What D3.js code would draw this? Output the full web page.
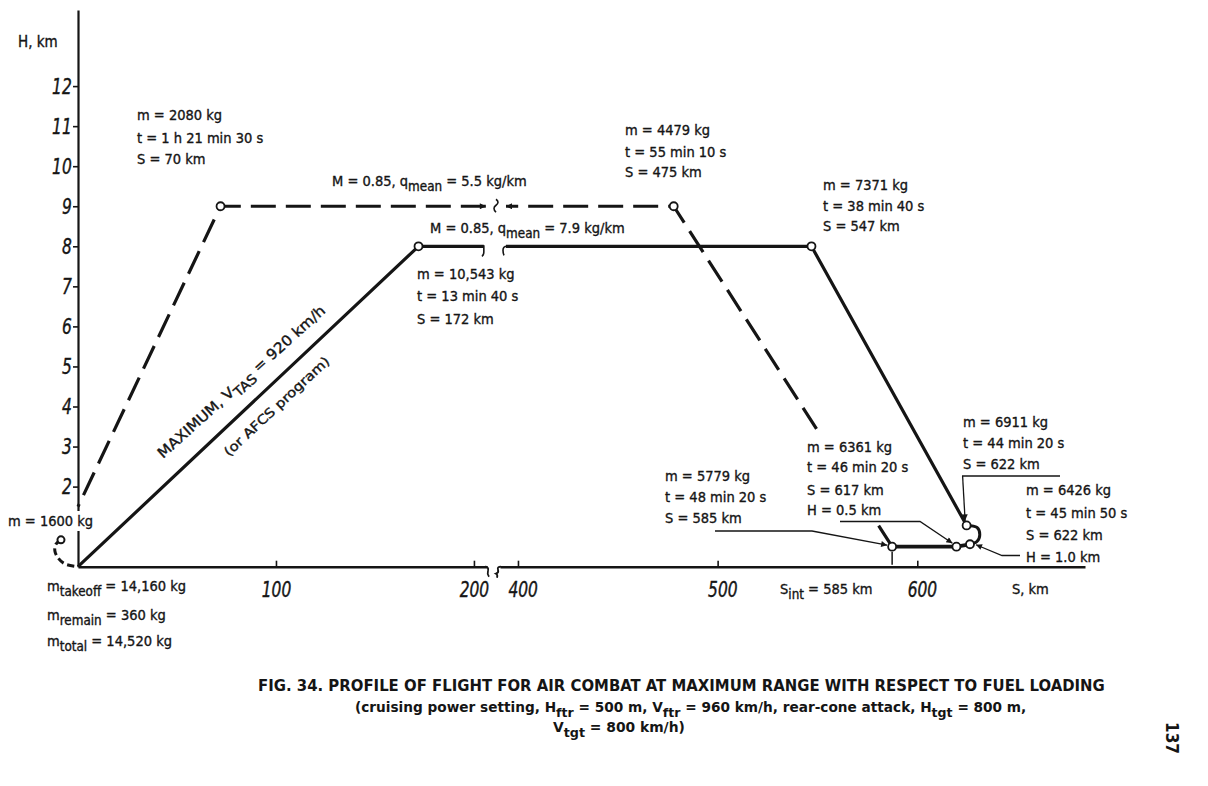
<!DOCTYPE html>
<html>
<head>
<meta charset="utf-8">
<script src="https://cdn.jsdelivr.net/npm/d3@7"></script>
<style>
  body { margin: 0; background: #fff; }
  svg text { font-family: "DejaVu Sans Condensed", "DejaVu Sans", sans-serif; fill: #151515; }
  .ann { font-size: 14.5px; stroke: #151515; stroke-width: 0.35px; }
  .num { font-style: italic; font-size: 22px; stroke: #151515; stroke-width: 0.4px; }
  .cap { font-weight: bold; font-size: 15px; }
</style>
</head>
<body>
<svg id="chart" width="1208" height="786"></svg>
<script>
// Axis ticks
const hTicks = [2, 3, 4, 5, 6, 7, 8, 9, 10, 11, 12];
const sTicksLeft = [100, 200];
const sTicksRight = [400, 500, 600];

// Outbound flight (solid), split by the axis break
const outLeftS = [0, 172, 205];
const outLeftH = [0, 8, 8];
const outRightS = [394, 547, 624.7];
const outRightH = [8, 8, 1.03];

// Manoeuvre loop before the attack
const loopS = [624.7, 629.9, 631.3, 629.9, 626.4];
const loopH = [1.03, 0.98, 0.80, 0.63, 0.56];

// Attack run at low level
const attackS = [626.4, 619.6, 587.4];
const attackH = [0.56, 0.5, 0.5];

// Return flight (dashed)
const backRightS = [587.4, 478, 394];
const backRightH = [0.5, 9, 9];
const backLeftS = [206, 72, 0];
const backLeftH = [9, 9, 1.5];

// Landing curl near the origin
const landS = [-8.6, -11.2, -11.7, -10.1, -6.6, 0];
const landH = [0.67, 0.56, 0.4, 0.22, 0.07, 0];

// Turning points (open circles)
const pointS = [172, 547, 624.7, 626.4, 619.6, 587.4, 478, 72];
const pointH = [8, 8, 1.03, 0.56, 0.5, 0.5, 9, 9];

const svg = d3.select("#chart");

// Broken S axis: two linear pieces
const xLeft = d3.scaleLinear().domain([0, 206.6]).range([78, 487]);
const xRight = d3.scaleLinear().domain([391, 684]).range([500, 1085]);
const x = s => (s < 300 ? xLeft(s) : xRight(s));
const y = d3.scaleLinear().domain([0, 13.9]).range([566.7, 10]);

const zip = (a, b) => a.map((v, i) => [v, b[i]]);
const line = d3.line().x(d => x(d[0])).y(d => y(d[1]));
const smooth = d3.line().x(d => x(d[0])).y(d => y(d[1])).curve(d3.curveCatmullRom);

// markers
const defs = svg.append("defs");
defs.append("marker").attr("id", "arrow")
  .attr("viewBox", "0 0 10 10").attr("refX", 10).attr("refY", 5)
  .attr("markerWidth", 9).attr("markerHeight", 6).attr("markerUnits", "userSpaceOnUse")
  .attr("orient", "auto-start-reverse")
  .append("path").attr("d", "M0,0L10,5L0,10z").attr("fill", "#151515");

// Axes
const yAxis = svg.append("g")
  .attr("transform", `translate(${x(0)},0)`)
  .call(d3.axisLeft(y).tickValues(hTicks).tickSizeInner(5).tickSizeOuter(0).tickPadding(3));

const xAxisL = svg.append("g")
  .attr("transform", `translate(0,${y(0)})`)
  .call(d3.axisBottom(xLeft).tickValues(sTicksLeft).tickSizeInner(-6).tickSizeOuter(0).tickPadding(15));

const xAxisR = svg.append("g")
  .attr("transform", `translate(0,${y(0)})`)
  .call(d3.axisBottom(xRight).tickValues(sTicksRight).tickSizeInner(-6).tickSizeOuter(0).tickPadding(15));

[yAxis, xAxisL, xAxisR].forEach(g => {
  g.attr("font-size", null).attr("font-family", null);
  g.select(".domain").attr("stroke", "#151515").attr("stroke-width", 2.2);
  g.selectAll(".tick line").attr("stroke", "#151515").attr("stroke-width", 1.6);
  // narrow, tall italic digits like the original lettering
  g.selectAll(".tick text").attr("class", "num").attr("fill", "#151515")
    .attr("transform", "scale(0.78,1)");
});
xAxisL.select(".domain").attr("stroke-width", 2.6);
xAxisR.select(".domain").attr("stroke-width", 2.6);
xAxisR.selectAll(".tick text").attr("x", 6);

// axis break curls
const y0 = y(0);
svg.append("path")
  .attr("d", `M${xLeft.range()[1] - 2},${y0} q4,0 3,4 q-1,3 1,6`)
  .attr("fill", "none").attr("stroke", "#151515").attr("stroke-width", 1.8);
svg.append("path")
  .attr("d", `M${xRight.range()[0] + 1},${y0} q-4,0 -3,3 q1,3 -2,4 q2,1 1,4`)
  .attr("fill", "none").attr("stroke", "#151515").attr("stroke-width", 1.8);

// Return flight (dashed)
const dash = "25,10";
svg.append("path").attr("d", line(zip(backRightS, backRightH)))
  .attr("fill", "none").attr("stroke", "#151515").attr("stroke-width", 3.2)
  .attr("stroke-dasharray", dash).attr("marker-end", "url(#arrow)");
svg.append("path").attr("d", line(zip(backLeftS, backLeftH)))
  .attr("fill", "none").attr("stroke", "#151515").attr("stroke-width", 3.2)
  .attr("stroke-dasharray", dash).attr("marker-start", "url(#arrow)");
svg.append("path").attr("d", smooth(zip(landS, landH)))
  .attr("fill", "none").attr("stroke", "#151515").attr("stroke-width", 3)
  .attr("stroke-dasharray", "7,4");

// squiggle break on the dashed cruise
const yb9 = y(9);
svg.append("path")
  .attr("d", `M${xLeft.range()[1] + 9},${yb9 - 7} q4,3 0,6 q-4,3 0,7`)
  .attr("fill", "none").attr("stroke", "#151515").attr("stroke-width", 1.6);

// white patch where the return descent runs behind the 6361 kg label
svg.append("rect").attr("x", 805).attr("y", 436).attr("width", 118).attr("height", 84).attr("fill", "#fff");

// Outbound flight (solid)
[zip(outLeftS, outLeftH), zip(outRightS, outRightH)].forEach(d => {
  svg.append("path").attr("d", line(d))
    .attr("fill", "none").attr("stroke", "#151515").attr("stroke-width", 3.2)
    .attr("stroke-linejoin", "round");
});
svg.append("path").attr("d", smooth(zip(loopS, loopH)))
  .attr("fill", "none").attr("stroke", "#151515").attr("stroke-width", 3);
svg.append("path").attr("d", line(zip(attackS, attackH)))
  .attr("fill", "none").attr("stroke", "#151515").attr("stroke-width", 3.8);

// break marks on the solid cruise
const yb8 = y(8);
svg.append("path")
  .attr("d", `M${x(outLeftS[2])},${yb8 - 1} v7 q0,3 -2,4`)
  .attr("fill", "none").attr("stroke", "#151515").attr("stroke-width", 1.6);
svg.append("path")
  .attr("d", `M${x(outRightS[0]) + 1},${yb8} q-4,0 -4,4 q0,3 1,5`)
  .attr("fill", "none").attr("stroke", "#151515").attr("stroke-width", 1.6);

// S_int mark
svg.append("line")
  .attr("x1", x(587.4)).attr("x2", x(587.4))
  .attr("y1", y(0.5) + 5).attr("y2", y(0) - 2)
  .attr("stroke", "#151515").attr("stroke-width", 1.5);

// points
svg.selectAll("circle.pt")
  .data(zip(pointS, pointH))
  .join("circle")
  .attr("class", "pt")
  .attr("cx", d => x(d[0])).attr("cy", d => y(d[1])).attr("r", 4)
  .attr("fill", "#fff").attr("stroke", "#151515").attr("stroke-width", 1.8);
svg.append("circle").attr("cx", x(landS[0])).attr("cy", y(landH[0])).attr("r", 3.5)
  .attr("fill", "#fff").attr("stroke", "#151515").attr("stroke-width", 2);

// Leader lines
function leader(pts) {
  svg.append("path").attr("d", d3.line()(pts))
    .attr("fill", "none").attr("stroke", "#151515").attr("stroke-width", 1.3)
    .attr("marker-end", "url(#arrow)");
}
leader([[715, 531], [812, 531], [x(587.4) - 5, y(0.5) - 1.5]]);
leader([[840, 521.5], [920, 521.5], [x(619.6) - 4, y(0.5) - 3.5]]);
leader([[x(624.7) - 4, 476], [x(624.7) - 1.5, y(1.03) - 5]]);
svg.append("line").attr("x1", 962).attr("x2", 1060).attr("y1", 476).attr("y2", 476)
  .attr("stroke", "#151515").attr("stroke-width", 1.3);
leader([[1020, 555.5], [1002, 555.5], [x(626.4) + 6, y(0.56) + 0.5]]);

// Text helper: parts are strings or [subscript]
function rich(g, px, py, parts, cls) {
  const t = g.append("text").attr("x", px).attr("y", py).attr("class", cls || "ann");
  let low = false;
  parts.forEach(p => {
    if (Array.isArray(p)) {
      t.append("tspan").attr("dy", 5).attr("font-size", "0.92em").text(p[0]);
      low = true;
    } else {
      const s = t.append("tspan").text(p);
      if (low) { s.attr("dy", -5); low = false; }
    }
  });
  return t;
}
function fit(t, px, width) {
  const w = t.node().getBBox().width;
  t.attr("transform", `translate(${px},0) scale(${width / w},1) translate(${-px},0)`);
}
function block(px, baselines, lines) {
  lines.forEach((l, i) => rich(svg, px, baselines[i], typeof l === "string" ? [l] : l));
}

// axis titles
rich(svg, 18, 47, ["H, km"]).style("font-size", "15px");
rich(svg, 1012, 594, ["S, km"]);
rich(svg, 780, 594, ["S", ["int"], " = 585 km"]);

// annotations
block(137, [120, 143, 164], ["m = 2080 kg", "t = 1 h 21 min 30 s", "S = 70 km"]);
rich(svg, 332, 186, ["M = 0.85, q", ["mean"], " = 5.5 kg/km"]);
block(625, [135, 157, 177], ["m = 4479 kg", "t = 55 min 10 s", "S = 475 km"]);
rich(svg, 430, 233, ["M = 0.85, q", ["mean"], " = 7.9 kg/km"]);
block(823, [190, 211, 231], ["m = 7371 kg", "t = 38 min  40 s", "S = 547 km"]);
block(417, [279, 301, 324], ["m = 10,543 kg", "t = 13 min 40 s", "S = 172 km"]);
block(963, [427, 448, 469], ["m = 6911 kg", "t = 44 min 20 s", "S = 622 km"]);
block(1026, [495, 518, 540, 562], ["m = 6426 kg", "t = 45 min 50 s", "S = 622 km", "H = 1.0 km"]);
block(807, [452, 472, 495, 515], ["m = 6361 kg", "t = 46 min 20 s", "S = 617 km", "H = 0.5 km"]);
block(665, [481, 502, 523], ["m = 5779 kg", "t = 48 min 20 s", "S = 585 km"]);

// label crossing the H axis
svg.append("rect").attr("x", 62).attr("y", 511).attr("width", 30).attr("height", 20).attr("fill", "#fff");
rich(svg, 8, 526, ["m = 1600 kg"]);

block(47, [591, 620, 646], [
  ["m", ["takeoff"], " = 14,160 kg"],
  ["m", ["remain"], " = 360 kg"],
  ["m", ["total"], " = 14,520 kg"]
]);

// labels along the climb
const climb = svg.append("g").attr("transform", "translate(163,459) rotate(-42)");
const c1 = rich(climb, 0, 0, ["MAXIMUM, V", ["TAS"], " = 920 km/h"]);
fit(c1, 0, 220);
const climb2 = svg.append("g").attr("transform", "translate(229,457) rotate(-43)");
const c2 = rich(climb2, 0, 0, ["(or AFCS program)"]);
c2.style("font-size", "13px");
fit(c2, 0, 139);

// caption
const cap1 = rich(svg, 258, 691, ["FIG. 34. PROFILE OF FLIGHT FOR AIR COMBAT AT MAXIMUM RANGE WITH RESPECT TO FUEL LOADING"], "cap");
fit(cap1, 258, 847);
const cap2 = rich(svg, 355, 712, ["(cruising power setting, H", ["ftr"], " = 500 m, V", ["ftr"], " = 960 km/h, rear-cone attack, H", ["tgt"], " = 800 m,"], "cap");
cap2.style("font-size", "13.5px");
fit(cap2, 355, 672);
const cap3 = rich(svg, 553, 732, ["V", ["tgt"], " = 800 km/h)"], "cap");
cap3.style("font-size", "13.5px");
fit(cap3, 553, 132);

// page number
svg.append("text")
  .attr("transform", "translate(1166,722) rotate(90)")
  .attr("class", "cap").style("font-size", "17px")
  .text("137");
</script>
</body>
</html>
